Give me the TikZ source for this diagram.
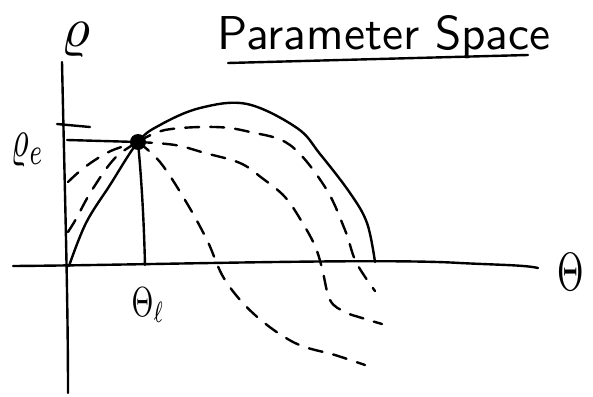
\documentclass[tikz,border=0pt]{standalone}
\usepackage{graphicx}
\begin{document}
\begin{tikzpicture}[x=1pt,y=-1pt,
  ink/.style={line width=2.4pt,line cap=round,line join=round},
  dashink/.style={ink,dash pattern=on 14pt off 11pt},
  lbl/.style={inner sep=0pt}]
\useasboundingbox (0,0) rectangle (593,396);
% coordinates
\coordinate (O) at (69,266);
\coordinate (ytop) at (62,62);
\coordinate (ybot) at (68,393);
\coordinate (xl) at (13,266);
\coordinate (xr) at (538,268);
\coordinate (P) at (138,142);
\coordinate (Pax) at (145,265);
\coordinate (rhoax) at (67,140);
\coordinate (tickl) at (57,124);
\coordinate (tickr) at (90,127);
% axes
\draw[ink] (ytop) .. controls (65,200) and (68,300) .. (ybot);
\draw[ink] (xl) .. controls (150,265) and (380,258) .. (460,263) .. controls (500,265) and (525,265) .. (xr);
\draw[ink] (tickl) -- (tickr);
% guide lines
\draw[ink] (rhoax) -- (P);
\draw[ink] (P) .. controls (142,185) and (144,225) .. (Pax);
% solid curve
\draw[ink] plot[smooth,tension=0.6] coordinates {(69,266) (86,223) (110,185) (138,142) (160,125) (200,108) (247,104) (297,128) (320,154) (350,193) (367,223) (375,262)};
% dashed curves on the left
\draw[dashink] plot[smooth,tension=0.6] coordinates {(68,182) (80,171) (95,160) (113,150) (138,142)};
\draw[dashink] plot[smooth,tension=0.6] coordinates {(68,232) (76,219) (92,190) (115,158) (138,142)};
% dashed curves on the right
\draw[dashink] plot[smooth,tension=0.6] coordinates {(138,142) (165,130) (215,127) (250,132) (290,145) (325,187) (345,230) (356,262) (375,291)};
\draw[dashink] plot[smooth,tension=0.6] coordinates {(138,142) (175,145) (205,153) (240,163) (262,178) (285,197) (302,222) (315,246) (322,268) (330,300) (345,312) (362,318) (382,324)};
\draw[dashink] plot[smooth,tension=0.6] coordinates {(138,142) (160,162) (185,200) (207,240) (225,280) (255,315) (295,343) (335,355) (365,365)};
% dot
\node[circle,fill=black,minimum size=16pt,inner sep=0pt] (dot) at (P) {};
% labels
\node[lbl] (rho) at (76,40) {\scalebox{5.6}{$\varrho$}};
\node[lbl] (rhoe) at (28,150) {\scalebox{3.4}[5.4]{$\varrho_e$}};
\node[lbl] (thl) at (148,305) {\scalebox{2.8}[4.2]{$\Theta_\ell$}};
\node[lbl] (th) at (571,272) {\scalebox{3.4}[5.4]{$\Theta$}};
\node[lbl,anchor=base] (title) at (384,49) {\resizebox{333pt}{34pt}{\sffamily Parameter Space}};
\coordinate (ul) at (228,63);
\coordinate (ur) at (528,55);
\draw[ink] (ul) -- (ur);
\end{tikzpicture}
\end{document}
